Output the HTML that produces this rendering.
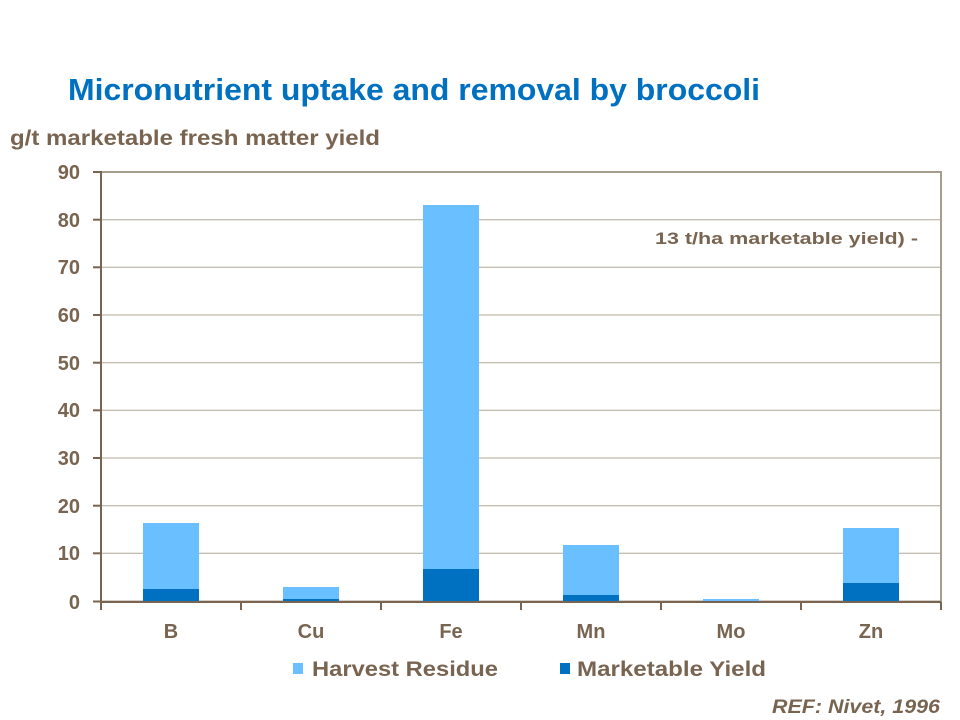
<!DOCTYPE html>
<html><head><style>body{margin:0;background:#fff}svg{display:block}</style></head><body>
<svg width="960" height="720" xmlns="http://www.w3.org/2000/svg" font-family="Liberation Sans, Arial, sans-serif" font-weight="bold">
<text x="68" y="100" font-size="31" fill="#0070C0" textLength="692" lengthAdjust="spacingAndGlyphs">Micronutrient uptake and removal by broccoli</text>
<text x="10" y="145" font-size="21" fill="#786450" textLength="370" lengthAdjust="spacingAndGlyphs">g/t marketable fresh matter yield</text>
<g stroke="#b0a898" stroke-width="1">
<line x1="101" y1="219.7" x2="941" y2="219.7"/><line x1="101" y1="267.3" x2="941" y2="267.3"/>
<line x1="101" y1="315" x2="941" y2="315"/><line x1="101" y1="362.7" x2="941" y2="362.7"/>
<line x1="101" y1="410.3" x2="941" y2="410.3"/><line x1="101" y1="458" x2="941" y2="458"/>
<line x1="101" y1="505.7" x2="941" y2="505.7"/><line x1="101" y1="553.3" x2="941" y2="553.3"/>
</g>
<rect x="101" y="172" width="840" height="429.5" fill="none" stroke="#a89c8c" stroke-width="2"/>
<g fill="#69BFFF">
<rect x="143" y="523" width="56" height="78.5"/><rect x="283" y="587" width="56" height="14.5"/>
<rect x="423" y="205" width="56" height="396.5"/><rect x="563" y="545" width="56" height="56.5"/>
<rect x="703" y="599" width="56" height="2.5"/><rect x="843" y="528" width="56" height="73.5"/>
</g>
<g fill="#0070C0">
<rect x="143" y="589" width="56" height="12.5"/><rect x="283" y="599" width="56" height="2.5"/>
<rect x="423" y="569" width="56" height="32.5"/><rect x="563" y="595" width="56" height="6.5"/>
<rect x="843" y="583" width="56" height="18.5"/>
</g>
<g stroke="#786450" stroke-width="2">
<line x1="101" y1="171" x2="101" y2="603"/><line x1="100" y1="602" x2="941" y2="602"/>
<line x1="93" y1="172" x2="101" y2="172"/><line x1="93" y1="219.7" x2="101" y2="219.7"/>
<line x1="93" y1="267.3" x2="101" y2="267.3"/><line x1="93" y1="315" x2="101" y2="315"/>
<line x1="93" y1="362.7" x2="101" y2="362.7"/><line x1="93" y1="410.3" x2="101" y2="410.3"/>
<line x1="93" y1="458" x2="101" y2="458"/><line x1="93" y1="505.7" x2="101" y2="505.7"/>
<line x1="93" y1="553.3" x2="101" y2="553.3"/><line x1="93" y1="601.5" x2="101" y2="601.5"/>
<line x1="101" y1="602" x2="101" y2="610"/><line x1="241" y1="602" x2="241" y2="610"/>
<line x1="381" y1="602" x2="381" y2="610"/><line x1="521" y1="602" x2="521" y2="610"/>
<line x1="661" y1="602" x2="661" y2="610"/><line x1="801" y1="602" x2="801" y2="610"/>
<line x1="941" y1="602" x2="941" y2="610"/>
</g>
<g font-size="20" fill="#786450" text-anchor="end">
<text x="80" y="179">90</text><text x="80" y="227">80</text><text x="80" y="274">70</text>
<text x="80" y="322">60</text><text x="80" y="370">50</text><text x="80" y="417">40</text>
<text x="80" y="465">30</text><text x="80" y="513">20</text><text x="80" y="560">10</text>
<text x="80" y="609">0</text>
</g>
<g font-size="20" fill="#786450" text-anchor="middle">
<text x="171" y="638">B</text><text x="311" y="638">Cu</text><text x="451" y="638">Fe</text>
<text x="591" y="638">Mn</text><text x="731" y="638">Mo</text><text x="871" y="638">Zn</text>
</g>
<text x="655" y="244" font-size="17" fill="#786450" textLength="263" lengthAdjust="spacingAndGlyphs">13 t/ha marketable yield)  -</text>
<rect x="293" y="663" width="10" height="11" fill="#69BFFF"/>
<text x="312" y="676" font-size="21" fill="#786450" textLength="186" lengthAdjust="spacingAndGlyphs">Harvest Residue</text>
<rect x="560" y="663" width="10" height="11" fill="#0070C0"/>
<text x="577" y="676" font-size="21" fill="#786450" textLength="189" lengthAdjust="spacingAndGlyphs">Marketable Yield</text>
<text x="772" y="713" font-size="19" font-style="italic" fill="#786450" textLength="168" lengthAdjust="spacingAndGlyphs">REF: Nivet, 1996</text>
</svg>
</body></html>
